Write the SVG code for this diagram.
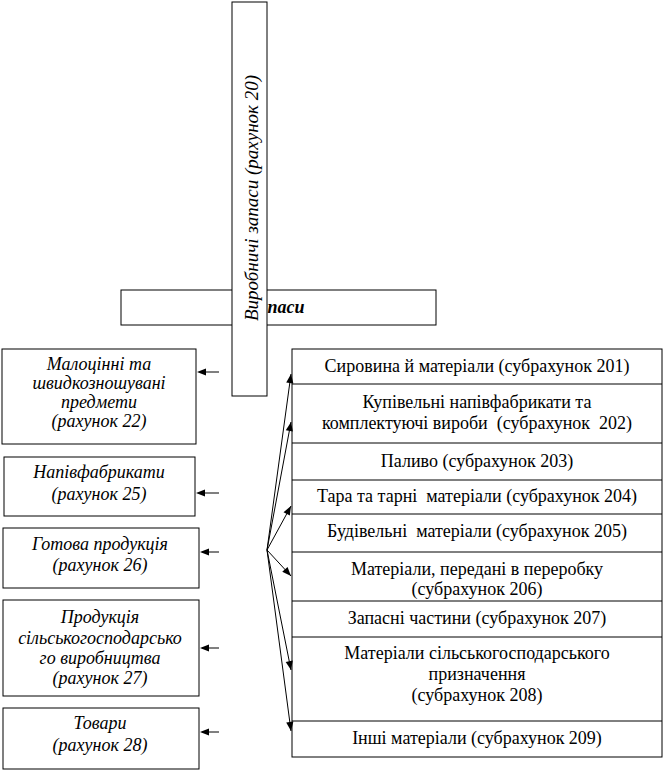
<svg xmlns="http://www.w3.org/2000/svg" xmlns:xlink="http://www.w3.org/1999/xlink" width="665" height="770" viewBox="0 0 665 770">
<style>
.box{fill:#fff;stroke:#000;stroke-width:1}
.ln{fill:none;stroke:#000;stroke-width:1}
.hd{fill:#000;stroke:none}
.rg{white-space:pre}
</style>
<defs>
<path id="arr" d="M0,0 L-9,-3.6 L-9,3.6 z"/>
</defs>
<g id="zapasy">
<rect class="box" x="121" y="290" width="315" height="35"/>
<text x="277" y="313" font-family="Liberation Serif" font-size="18" font-style="italic" font-weight="bold" text-anchor="middle">Запаси</text>
</g>
<g id="vyrobnychi">
<rect class="box" x="232" y="2" width="35" height="394"/>
<text transform="translate(258,198) rotate(-90)" font-family="Liberation Serif" font-size="19" font-style="italic" text-anchor="middle">Виробничі запаси (рахунок 20)</text>
</g>
<g id="l22" font-family="Liberation Serif" font-size="18" font-style="italic" text-anchor="middle">
<rect class="box" x="2" y="349" width="194" height="95"/>
<text x="99" y="370" font-family="Liberation Serif">Малоцінні та</text>
<text x="99" y="389" font-family="Liberation Serif">швидкозношувані</text>
<text x="99" y="408" font-family="Liberation Serif">предмети</text>
<text x="99" y="427" font-family="Liberation Serif">(рахунок 22)</text>
</g>
<g id="l25" font-family="Liberation Serif" font-size="18" font-style="italic" text-anchor="middle">
<rect class="box" x="4" y="457" width="191" height="59"/>
<text x="99" y="478" font-family="Liberation Serif">Напівфабрикати</text>
<text x="99" y="500" font-family="Liberation Serif">(рахунок 25)</text>
</g>
<g id="l26" font-family="Liberation Serif" font-size="18" font-style="italic" text-anchor="middle">
<rect class="box" x="3" y="528" width="196" height="60"/>
<text x="100" y="550" font-family="Liberation Serif">Готова продукція</text>
<text x="100" y="571" font-family="Liberation Serif">(рахунок 26)</text>
</g>
<g id="l27" font-family="Liberation Serif" font-size="18" font-style="italic" text-anchor="middle">
<rect class="box" x="3" y="600" width="196" height="96"/>
<text x="100" y="623" font-family="Liberation Serif">Продукція</text>
<text x="100" y="644" font-family="Liberation Serif">сільськогосподарсько</text>
<text x="100" y="664" font-family="Liberation Serif">го виробництва</text>
<text x="100" y="684" font-family="Liberation Serif">(рахунок 27)</text>
</g>
<g id="l28" font-family="Liberation Serif" font-size="18" font-style="italic" text-anchor="middle">
<rect class="box" x="3" y="708" width="196" height="61"/>
<text x="100" y="729" font-family="Liberation Serif">Товари</text>
<text x="100" y="751" font-family="Liberation Serif">(рахунок 28)</text>
</g>
<g id="sub" font-family="Liberation Serif" font-size="18" text-anchor="middle">
<rect class="box" x="292" y="349" width="370" height="408"/>
<path class="ln" d="M292,384H662M292,443H662M292,480H662M292,514H662M292,552H662M292,601H662M292,637H662M292,721H662"/>
<text class="rg" x="477" y="372" font-family="Liberation Serif">Сировина й матеріали (субрахунок 201)</text>
<text class="rg" x="477" y="408" font-family="Liberation Serif">Купівельні напівфабрикати та</text>
<text class="rg" x="477" y="429" font-family="Liberation Serif" xml:space="preserve">комплектуючі вироби  (субрахунок  202)</text>
<text class="rg" x="477" y="467" font-family="Liberation Serif">Паливо (субрахунок 203)</text>
<text class="rg" x="477" y="502" font-family="Liberation Serif" xml:space="preserve">Тара та тарні  матеріали (субрахунок 204)</text>
<text class="rg" x="477" y="537" font-family="Liberation Serif" xml:space="preserve">Будівельні  матеріали (субрахунок 205)</text>
<text class="rg" x="477" y="575" font-family="Liberation Serif">Матеріали, передані в переробку</text>
<text class="rg" x="477" y="595" font-family="Liberation Serif">(субрахунок 206)</text>
<text class="rg" x="477" y="624" font-family="Liberation Serif">Запасні частини (субрахунок 207)</text>
<text class="rg" x="477" y="659" font-family="Liberation Serif">Матеріали сільськогосподарського</text>
<text class="rg" x="477" y="680" font-family="Liberation Serif">призначення</text>
<text class="rg" x="477" y="701" font-family="Liberation Serif">(субрахунок 208)</text>
<text class="rg" x="477" y="744" font-family="Liberation Serif">Інші матеріали (субрахунок 209)</text>
</g>
<g id="connectors">
<path class="ln" d="M219,372H200M219,493H199M219,552H202M219,648H202M219,732H202"/>
<path class="ln" d="M267,550L291,374M267,550L291,422M267,550L291,506M267,550L291,576M267,550L291,670M267,550L291,731"/>
<use class="hd" href="#arr" xlink:href="#arr" transform="translate(197,372) rotate(180)"/>
<use class="hd" href="#arr" xlink:href="#arr" transform="translate(196,493) rotate(180)"/>
<use class="hd" href="#arr" xlink:href="#arr" transform="translate(200,552) rotate(180)"/>
<use class="hd" href="#arr" xlink:href="#arr" transform="translate(200,648) rotate(180)"/>
<use class="hd" href="#arr" xlink:href="#arr" transform="translate(200,732) rotate(180)"/>
<use class="hd" href="#arr" xlink:href="#arr" transform="translate(291,374) rotate(-82.23)"/>
<use class="hd" href="#arr" xlink:href="#arr" transform="translate(291,422) rotate(-79.38)"/>
<use class="hd" href="#arr" xlink:href="#arr" transform="translate(291,506) rotate(-61.39)"/>
<use class="hd" href="#arr" xlink:href="#arr" transform="translate(291,576) rotate(47.29)"/>
<use class="hd" href="#arr" xlink:href="#arr" transform="translate(291,670) rotate(78.69)"/>
<use class="hd" href="#arr" xlink:href="#arr" transform="translate(291,731) rotate(82.45)"/>
</g>
</svg>
